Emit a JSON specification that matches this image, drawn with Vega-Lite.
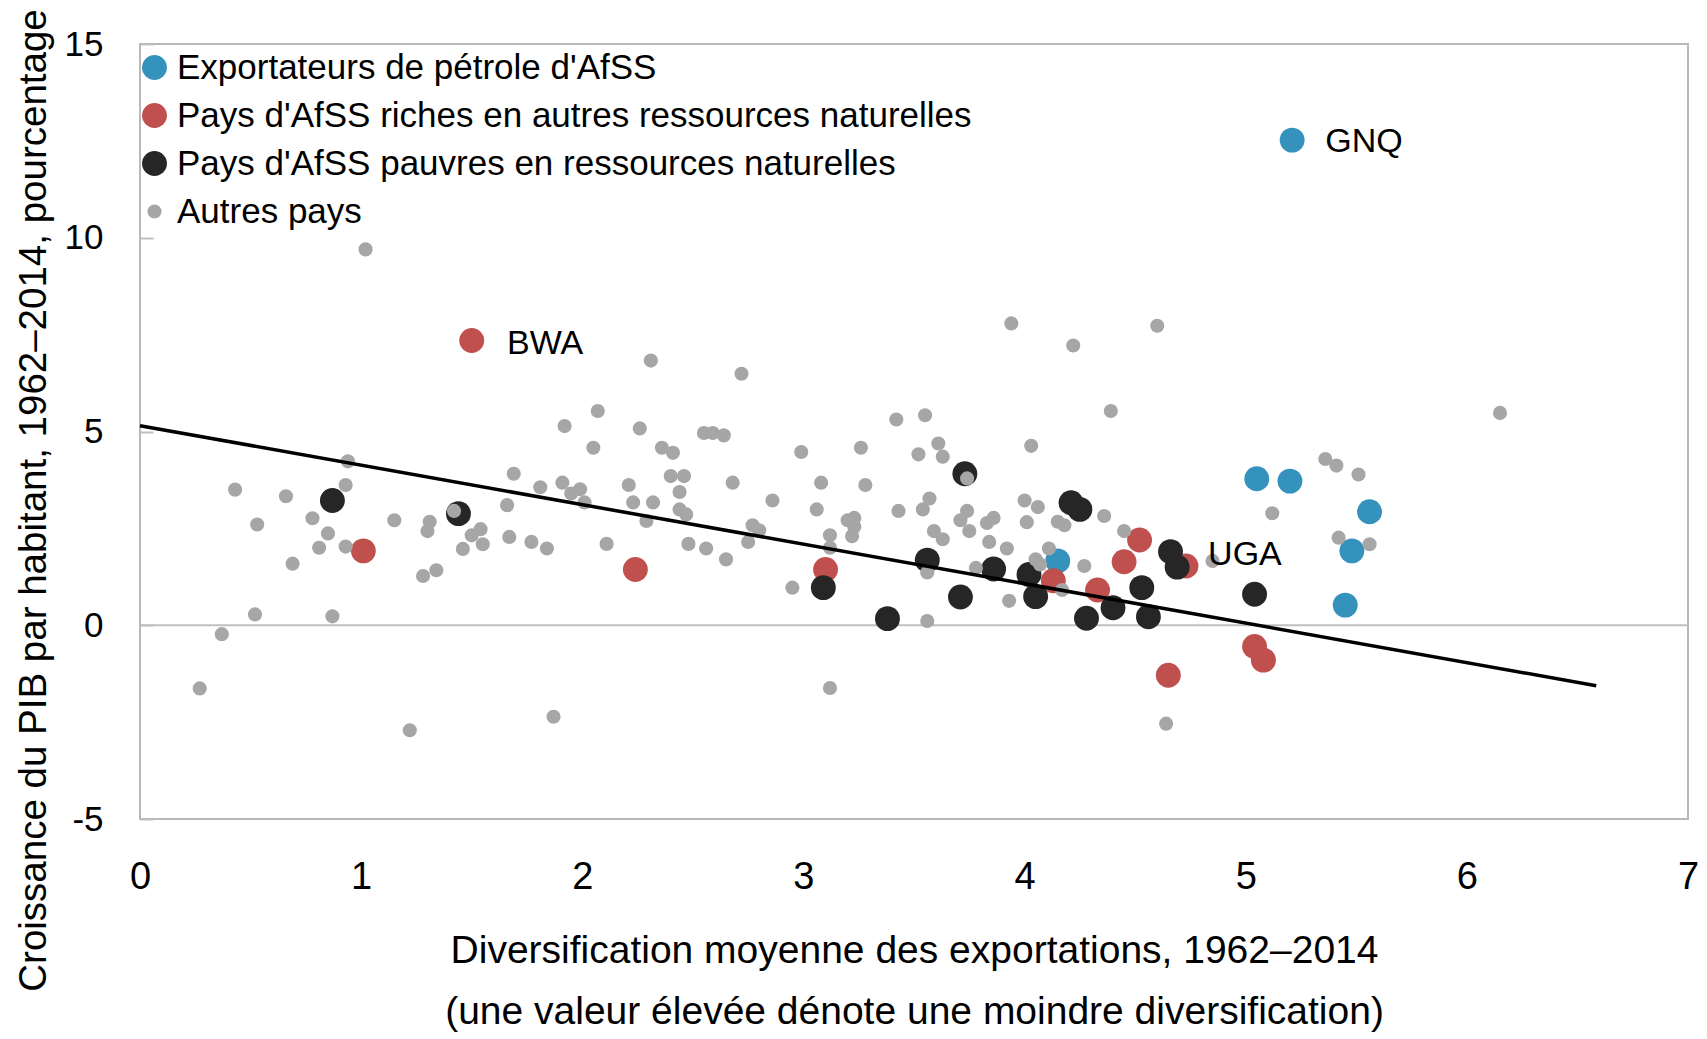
{
  "$schema": "https://vega.github.io/schema/vega-lite/v6.json",
  "width": 1548,
  "height": 775,
  "autosize": {"type": "none"},
  "padding": {"left": 140, "top": 44, "right": 19, "bottom": 220},
  "background": "white",
  "config": {
    "view": {"stroke": "#b8b8b8", "strokeWidth": 2},
    "font": "Liberation Sans, Arial, sans-serif"
  },
  "datasets": {
    "pts": [
      {"x": 5.21, "y": 12.52, "g": "Exportateurs de pétrole d'AfSS"},
      {"x": 4.15, "y": 1.66, "g": "Exportateurs de pétrole d'AfSS"},
      {"x": 5.05, "y": 3.78, "g": "Exportateurs de pétrole d'AfSS"},
      {"x": 5.20, "y": 3.72, "g": "Exportateurs de pétrole d'AfSS"},
      {"x": 5.56, "y": 2.93, "g": "Exportateurs de pétrole d'AfSS"},
      {"x": 5.48, "y": 1.92, "g": "Exportateurs de pétrole d'AfSS"},
      {"x": 5.45, "y": 0.52, "g": "Exportateurs de pétrole d'AfSS"},
      {"x": 1.50, "y": 7.35, "g": "Pays d'AfSS riches en autres ressources naturelles"},
      {"x": 1.01, "y": 1.92, "g": "Pays d'AfSS riches en autres ressources naturelles"},
      {"x": 2.24, "y": 1.44, "g": "Pays d'AfSS riches en autres ressources naturelles"},
      {"x": 3.10, "y": 1.44, "g": "Pays d'AfSS riches en autres ressources naturelles"},
      {"x": 4.13, "y": 1.15, "g": "Pays d'AfSS riches en autres ressources naturelles"},
      {"x": 4.33, "y": 0.91, "g": "Pays d'AfSS riches en autres ressources naturelles"},
      {"x": 4.45, "y": 1.64, "g": "Pays d'AfSS riches en autres ressources naturelles"},
      {"x": 4.52, "y": 2.20, "g": "Pays d'AfSS riches en autres ressources naturelles"},
      {"x": 4.73, "y": 1.53, "g": "Pays d'AfSS riches en autres ressources naturelles"},
      {"x": 4.65, "y": -1.29, "g": "Pays d'AfSS riches en autres ressources naturelles"},
      {"x": 5.04, "y": -0.55, "g": "Pays d'AfSS riches en autres ressources naturelles"},
      {"x": 5.08, "y": -0.90, "g": "Pays d'AfSS riches en autres ressources naturelles"},
      {"x": 0.87, "y": 3.22, "g": "Pays d'AfSS pauvres en ressources naturelles"},
      {"x": 1.44, "y": 2.88, "g": "Pays d'AfSS pauvres en ressources naturelles"},
      {"x": 3.09, "y": 0.97, "g": "Pays d'AfSS pauvres en ressources naturelles"},
      {"x": 3.38, "y": 0.17, "g": "Pays d'AfSS pauvres en ressources naturelles"},
      {"x": 3.56, "y": 1.68, "g": "Pays d'AfSS pauvres en ressources naturelles"},
      {"x": 3.71, "y": 0.73, "g": "Pays d'AfSS pauvres en ressources naturelles"},
      {"x": 3.73, "y": 3.91, "g": "Pays d'AfSS pauvres en ressources naturelles"},
      {"x": 3.86, "y": 1.45, "g": "Pays d'AfSS pauvres en ressources naturelles"},
      {"x": 4.02, "y": 1.31, "g": "Pays d'AfSS pauvres en ressources naturelles"},
      {"x": 4.05, "y": 0.74, "g": "Pays d'AfSS pauvres en ressources naturelles"},
      {"x": 4.21, "y": 3.16, "g": "Pays d'AfSS pauvres en ressources naturelles"},
      {"x": 4.25, "y": 2.99, "g": "Pays d'AfSS pauvres en ressources naturelles"},
      {"x": 4.28, "y": 0.18, "g": "Pays d'AfSS pauvres en ressources naturelles"},
      {"x": 4.40, "y": 0.45, "g": "Pays d'AfSS pauvres en ressources naturelles"},
      {"x": 4.53, "y": 0.97, "g": "Pays d'AfSS pauvres en ressources naturelles"},
      {"x": 4.56, "y": 0.22, "g": "Pays d'AfSS pauvres en ressources naturelles"},
      {"x": 4.66, "y": 1.90, "g": "Pays d'AfSS pauvres en ressources naturelles"},
      {"x": 4.69, "y": 1.50, "g": "Pays d'AfSS pauvres en ressources naturelles"},
      {"x": 5.04, "y": 0.80, "g": "Pays d'AfSS pauvres en ressources naturelles"},
      {"x": 0.27, "y": -1.63, "g": "Autres pays"},
      {"x": 0.37, "y": -0.23, "g": "Autres pays"},
      {"x": 0.52, "y": 0.28, "g": "Autres pays"},
      {"x": 0.43, "y": 3.50, "g": "Autres pays"},
      {"x": 0.53, "y": 2.60, "g": "Autres pays"},
      {"x": 0.66, "y": 3.33, "g": "Autres pays"},
      {"x": 0.69, "y": 1.59, "g": "Autres pays"},
      {"x": 0.78, "y": 2.76, "g": "Autres pays"},
      {"x": 0.81, "y": 2.00, "g": "Autres pays"},
      {"x": 0.85, "y": 2.37, "g": "Autres pays"},
      {"x": 0.87, "y": 0.23, "g": "Autres pays"},
      {"x": 0.93, "y": 3.62, "g": "Autres pays"},
      {"x": 0.94, "y": 4.23, "g": "Autres pays"},
      {"x": 0.93, "y": 2.03, "g": "Autres pays"},
      {"x": 1.02, "y": 9.70, "g": "Autres pays"},
      {"x": 1.15, "y": 2.71, "g": "Autres pays"},
      {"x": 1.22, "y": -2.71, "g": "Autres pays"},
      {"x": 1.28, "y": 1.27, "g": "Autres pays"},
      {"x": 1.31, "y": 2.67, "g": "Autres pays"},
      {"x": 1.30, "y": 2.43, "g": "Autres pays"},
      {"x": 1.34, "y": 1.42, "g": "Autres pays"},
      {"x": 1.42, "y": 2.95, "g": "Autres pays"},
      {"x": 1.46, "y": 1.97, "g": "Autres pays"},
      {"x": 1.50, "y": 2.32, "g": "Autres pays"},
      {"x": 1.54, "y": 2.48, "g": "Autres pays"},
      {"x": 1.55, "y": 2.09, "g": "Autres pays"},
      {"x": 1.66, "y": 3.10, "g": "Autres pays"},
      {"x": 1.67, "y": 2.28, "g": "Autres pays"},
      {"x": 1.69, "y": 3.91, "g": "Autres pays"},
      {"x": 1.77, "y": 2.15, "g": "Autres pays"},
      {"x": 1.81, "y": 3.56, "g": "Autres pays"},
      {"x": 1.84, "y": 1.98, "g": "Autres pays"},
      {"x": 1.87, "y": -2.36, "g": "Autres pays"},
      {"x": 1.91, "y": 3.68, "g": "Autres pays"},
      {"x": 1.92, "y": 5.14, "g": "Autres pays"},
      {"x": 1.95, "y": 3.40, "g": "Autres pays"},
      {"x": 1.99, "y": 3.51, "g": "Autres pays"},
      {"x": 2.01, "y": 3.17, "g": "Autres pays"},
      {"x": 2.05, "y": 4.58, "g": "Autres pays"},
      {"x": 2.07, "y": 5.53, "g": "Autres pays"},
      {"x": 2.11, "y": 2.10, "g": "Autres pays"},
      {"x": 2.21, "y": 3.62, "g": "Autres pays"},
      {"x": 2.23, "y": 3.17, "g": "Autres pays"},
      {"x": 2.26, "y": 5.08, "g": "Autres pays"},
      {"x": 2.29, "y": 2.69, "g": "Autres pays"},
      {"x": 2.31, "y": 6.83, "g": "Autres pays"},
      {"x": 2.32, "y": 3.17, "g": "Autres pays"},
      {"x": 2.36, "y": 4.58, "g": "Autres pays"},
      {"x": 2.40, "y": 3.85, "g": "Autres pays"},
      {"x": 2.41, "y": 4.45, "g": "Autres pays"},
      {"x": 2.44, "y": 3.44, "g": "Autres pays"},
      {"x": 2.44, "y": 2.99, "g": "Autres pays"},
      {"x": 2.46, "y": 3.85, "g": "Autres pays"},
      {"x": 2.47, "y": 2.86, "g": "Autres pays"},
      {"x": 2.48, "y": 2.10, "g": "Autres pays"},
      {"x": 2.55, "y": 4.96, "g": "Autres pays"},
      {"x": 2.56, "y": 1.98, "g": "Autres pays"},
      {"x": 2.59, "y": 4.96, "g": "Autres pays"},
      {"x": 2.64, "y": 4.90, "g": "Autres pays"},
      {"x": 2.65, "y": 1.70, "g": "Autres pays"},
      {"x": 2.68, "y": 3.68, "g": "Autres pays"},
      {"x": 2.72, "y": 6.49, "g": "Autres pays"},
      {"x": 2.75, "y": 2.15, "g": "Autres pays"},
      {"x": 2.77, "y": 2.58, "g": "Autres pays"},
      {"x": 2.80, "y": 2.45, "g": "Autres pays"},
      {"x": 2.86, "y": 3.22, "g": "Autres pays"},
      {"x": 2.95, "y": 0.97, "g": "Autres pays"},
      {"x": 2.99, "y": 4.47, "g": "Autres pays"},
      {"x": 3.06, "y": 2.99, "g": "Autres pays"},
      {"x": 3.08, "y": 3.68, "g": "Autres pays"},
      {"x": 3.12, "y": -1.62, "g": "Autres pays"},
      {"x": 3.12, "y": 2.32, "g": "Autres pays"},
      {"x": 3.12, "y": 2.00, "g": "Autres pays"},
      {"x": 3.20, "y": 2.71, "g": "Autres pays"},
      {"x": 3.23, "y": 2.77, "g": "Autres pays"},
      {"x": 3.23, "y": 2.54, "g": "Autres pays"},
      {"x": 3.22, "y": 2.30, "g": "Autres pays"},
      {"x": 3.26, "y": 4.58, "g": "Autres pays"},
      {"x": 3.28, "y": 3.62, "g": "Autres pays"},
      {"x": 3.42, "y": 5.31, "g": "Autres pays"},
      {"x": 3.43, "y": 2.95, "g": "Autres pays"},
      {"x": 3.52, "y": 4.41, "g": "Autres pays"},
      {"x": 3.54, "y": 2.99, "g": "Autres pays"},
      {"x": 3.55, "y": 5.42, "g": "Autres pays"},
      {"x": 3.57, "y": 3.27, "g": "Autres pays"},
      {"x": 3.56, "y": 1.36, "g": "Autres pays"},
      {"x": 3.56, "y": 0.11, "g": "Autres pays"},
      {"x": 3.59, "y": 2.43, "g": "Autres pays"},
      {"x": 3.61, "y": 4.69, "g": "Autres pays"},
      {"x": 3.63, "y": 4.35, "g": "Autres pays"},
      {"x": 3.63, "y": 2.22, "g": "Autres pays"},
      {"x": 3.71, "y": 2.71, "g": "Autres pays"},
      {"x": 3.74, "y": 3.79, "g": "Autres pays"},
      {"x": 3.74, "y": 2.95, "g": "Autres pays"},
      {"x": 3.75, "y": 2.43, "g": "Autres pays"},
      {"x": 3.78, "y": 1.48, "g": "Autres pays"},
      {"x": 3.83, "y": 2.64, "g": "Autres pays"},
      {"x": 3.86, "y": 2.77, "g": "Autres pays"},
      {"x": 3.84, "y": 2.15, "g": "Autres pays"},
      {"x": 3.92, "y": 1.98, "g": "Autres pays"},
      {"x": 3.93, "y": 0.63, "g": "Autres pays"},
      {"x": 3.94, "y": 7.79, "g": "Autres pays"},
      {"x": 4.00, "y": 3.22, "g": "Autres pays"},
      {"x": 4.03, "y": 4.63, "g": "Autres pays"},
      {"x": 4.06, "y": 3.05, "g": "Autres pays"},
      {"x": 4.01, "y": 2.66, "g": "Autres pays"},
      {"x": 4.05, "y": 1.70, "g": "Autres pays"},
      {"x": 4.07, "y": 1.57, "g": "Autres pays"},
      {"x": 4.11, "y": 1.98, "g": "Autres pays"},
      {"x": 4.15, "y": 2.67, "g": "Autres pays"},
      {"x": 4.18, "y": 2.58, "g": "Autres pays"},
      {"x": 4.17, "y": 0.91, "g": "Autres pays"},
      {"x": 4.22, "y": 7.22, "g": "Autres pays"},
      {"x": 4.27, "y": 1.53, "g": "Autres pays"},
      {"x": 4.36, "y": 2.82, "g": "Autres pays"},
      {"x": 4.39, "y": 5.53, "g": "Autres pays"},
      {"x": 4.45, "y": 2.43, "g": "Autres pays"},
      {"x": 4.60, "y": 7.73, "g": "Autres pays"},
      {"x": 4.64, "y": -2.54, "g": "Autres pays"},
      {"x": 4.85, "y": 1.66, "g": "Autres pays"},
      {"x": 5.12, "y": 2.89, "g": "Autres pays"},
      {"x": 5.36, "y": 4.29, "g": "Autres pays"},
      {"x": 5.41, "y": 4.12, "g": "Autres pays"},
      {"x": 5.42, "y": 2.26, "g": "Autres pays"},
      {"x": 5.51, "y": 3.89, "g": "Autres pays"},
      {"x": 5.56, "y": 2.09, "g": "Autres pays"},
      {"x": 6.15, "y": 5.48, "g": "Autres pays"}
    ],
    "fit": [{"x": 0, "y": 5.15}, {"x": 6.585, "y": -1.56}],
    "labels": [
      {"x": 5.36, "y": 12.48, "label": "GNQ"},
      {"x": 1.66, "y": 7.26, "label": "BWA"},
      {"x": 4.83, "y": 1.81, "label": "UGA"}
    ]
  },
  "layer": [
    {
      "data": {"values": [{"v": 0}]},
      "mark": {"type": "rule", "color": "#bfbfbf", "strokeWidth": 2},
      "encoding": {"y": {"field": "v", "type": "quantitative", "scale": {"domain": [-5, 15], "nice": false}}}
    },
    {
      "data": {"name": "pts"},
      "mark": {"type": "circle", "opacity": 1},
      "encoding": {
        "x": {
          "field": "x", "type": "quantitative",
          "scale": {"domain": [0, 7], "nice": false},
          "axis": {
            "values": [0, 1, 2, 3, 4, 5, 6, 7], "format": "d", "labelFlush": false,
            "domain": false, "ticks": false, "grid": false,
            "labelPadding": 39, "labelFontSize": 38, "labelColor": "black",
            "title": ["Diversification moyenne des exportations, 1962–2014", "(une valeur élevée dénote une moindre diversification)"],
            "titleFontSize": 39, "titleFontWeight": "normal", "titleColor": "black",
            "titleBaseline": "top", "titleY": 112, "titleLineHeight": 61
          }
        },
        "y": {
          "field": "y", "type": "quantitative",
          "scale": {"domain": [-5, 15], "nice": false},
          "axis": {
            "values": [-5, 0, 5, 10, 15], "labelExpr": "'' + datum.value",
            "domain": false, "grid": false,
            "tickSize": -13, "tickColor": "#bfbfbf", "tickWidth": 2,
            "labelPadding": 50, "labelFontSize": 35, "labelColor": "black",
            "title": "Croissance du PIB par habitant, 1962–2014, pourcentage",
            "titleFontSize": 38.5, "titleFontWeight": "normal", "titleColor": "black",
            "titleBaseline": "middle", "titleAlign": "center", "titleX": -107, "titleY": 456
          }
        },
        "color": {
          "field": "g", "type": "nominal",
          "scale": {
            "domain": ["Exportateurs de pétrole d'AfSS", "Pays d'AfSS riches en autres ressources naturelles", "Pays d'AfSS pauvres en ressources naturelles", "Autres pays"],
            "range": ["#3592bd", "#c0504d", "#262626", "#a6a6a6"]
          },
          "legend": {
            "title": null, "orient": "none", "legendX": -3, "legendY": 6,
            "padding": 0, "labelFontSize": 35, "labelColor": "black", "labelLimit": 0,
            "labelOffset": 5, "rowPadding": 12, "symbolType": "circle", "symbolOpacity": 1
          }
        },
        "size": {
          "field": "g", "type": "nominal",
          "scale": {
            "type": "ordinal",
            "domain": ["Exportateurs de pétrole d'AfSS", "Pays d'AfSS riches en autres ressources naturelles", "Pays d'AfSS pauvres en ressources naturelles", "Autres pays"],
            "range": [620, 620, 620, 200]
          },
          "legend": {
            "title": null, "orient": "none", "legendX": -3, "legendY": 6,
            "padding": 0, "labelFontSize": 35, "labelColor": "black", "labelLimit": 0,
            "labelOffset": 5, "rowPadding": 12, "symbolType": "circle", "symbolOpacity": 1
          }
        }
      }
    },
    {
      "data": {"name": "fit"},
      "mark": {"type": "line", "color": "black", "strokeWidth": 3.5},
      "encoding": {
        "x": {"field": "x", "type": "quantitative"},
        "y": {"field": "y", "type": "quantitative"}
      }
    },
    {
      "data": {"name": "labels"},
      "mark": {"type": "text", "align": "left", "baseline": "middle", "fontSize": 34, "color": "black"},
      "encoding": {
        "x": {"field": "x", "type": "quantitative"},
        "y": {"field": "y", "type": "quantitative"},
        "text": {"field": "label", "type": "nominal"}
      }
    }
  ]
}
